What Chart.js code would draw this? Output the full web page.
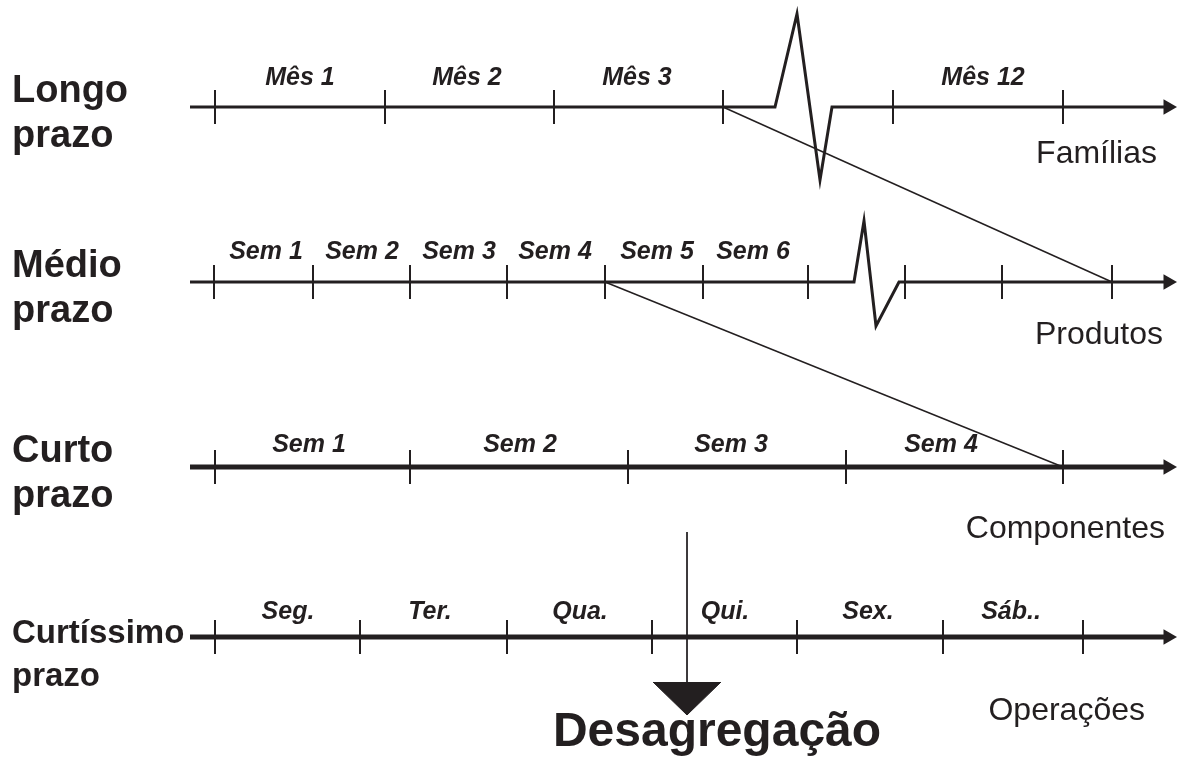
<!DOCTYPE html>
<html>
<head>
<meta charset="utf-8">
<script src="https://cdn.jsdelivr.net/npm/chart.js@4.4.1/dist/chart.umd.min.js"></script>
<style>
  html, body { margin: 0; padding: 0; background: #fff; overflow: hidden; }
</style>
</head>
<body>
<canvas id="chart" width="1177" height="758"></canvas>
<script>
// horizon rows (top to bottom)
const rowTitles = [['Longo', 'prazo'], ['Médio', 'prazo'], ['Curto', 'prazo'], ['Curtíssimo', 'prazo']];
const rowLevels = [107, 282, 467, 637];
const levelNames = ['Famílias', 'Produtos', 'Componentes', 'Operações'];

// tick positions on each time line
const longTicks = [215, 385, 554, 723, 893, 1063];
const medTicks = [214, 313, 410, 507, 605, 703, 808, 905, 1002, 1112];
const shortTicks = [215, 410, 628, 846, 1063];
const dayTicks = [215, 360, 507, 652, 797, 943, 1083];

// period labels and where they sit
const longLabels = ['Mês 1', 'Mês 2', 'Mês 3', 'Mês 12'];
const longLabelX = [300, 467, 637, 983];
const medLabels = ['Sem 1', 'Sem 2', 'Sem 3', 'Sem 4', 'Sem 5', 'Sem 6'];
const medLabelX = [266, 362, 459, 555, 657, 753];
const shortLabels = ['Sem 1', 'Sem 2', 'Sem 3', 'Sem 4'];
const shortLabelX = [309, 520, 731, 941];
const dayLabels = ['Seg.', 'Ter.', 'Qua.', 'Qui.', 'Sex.', 'Sáb..'];
const dayLabelX = [288, 430, 580, 725, 868, 1011];

// breaks (zig-zag) in the first two lines
const longBreakX = [775, 797, 820, 832];
const longBreakY = [107, 14, 180, 107];
const medBreakX = [854, 864, 876, 899];
const medBreakY = [282, 221, 326, 282];

// disaggregation links: [from x on row i, to x on row i+1]
const linkFrom = [723, 605];
const linkTo = [1112, 1063];

const axisStart = 190;
const axisEnd = 1168;
const desagX = 687;

const ink = '#231f20';

const allTicks = [longTicks, medTicks, shortTicks, dayTicks];
const allLabels = [longLabels, medLabels, shortLabels, dayLabels];
const allLabelX = [longLabelX, medLabelX, shortLabelX, dayLabelX];
const lineWidths = [3, 3, 5, 5];
const labelRise = [22, 23, 15, 18];

function axisPath(i) {
  const y = rowLevels[i];
  const pts = [{ x: axisStart, y }];
  if (i === 0) longBreakX.forEach((x, k) => pts.push({ x, y: longBreakY[k] }));
  if (i === 1) medBreakX.forEach((x, k) => pts.push({ x, y: medBreakY[k] }));
  pts.push({ x: axisEnd, y });
  return pts;
}

const datasets = [];

rowLevels.forEach((y, i) => {
  datasets.push({
    data: axisPath(i),
    borderColor: ink,
    borderWidth: lineWidths[i],
    borderJoinStyle: 'miter',
    pointRadius: 0,
    tension: 0
  });
  datasets.push({
    data: allTicks[i].map(x => ({ x, y })),
    showLine: false,
    pointStyle: 'line',
    pointRotation: 90,
    pointRadius: 17,
    pointHoverRadius: 17,
    pointBorderWidth: 2,
    pointBorderColor: ink
  });
});

// arrow heads
datasets.push({
  data: rowLevels.map(y => ({ x: axisEnd, y })),
  showLine: false,
  pointStyle: 'triangle',
  pointRotation: 90,
  pointRadius: 9,
  pointHoverRadius: 9,
  pointBorderWidth: 0,
  pointBackgroundColor: ink,
  pointBorderColor: ink
});

// thin links between horizons
linkFrom.forEach((x, i) => {
  datasets.push({
    data: [{ x, y: rowLevels[i] }, { x: linkTo[i], y: rowLevels[i + 1] }],
    borderColor: ink,
    borderWidth: 1.5,
    pointRadius: 0
  });
});

// vertical disaggregation arrow
datasets.push({
  data: [{ x: desagX, y: 532 }, { x: desagX, y: 682 }],
  borderColor: ink,
  borderWidth: 1,
  pointRadius: 0
});
datasets.push({
  data: [{ x: desagX - 34, y: 682 }, { x: desagX, y: 715 }, { x: desagX + 34, y: 682 }],
  borderColor: ink,
  borderWidth: 1,
  backgroundColor: ink,
  fill: { value: 682 },
  pointRadius: 0
});

const textPlugin = {
  id: 'diagramText',
  afterDatasetsDraw(chart) {
    const ctx = chart.ctx;
    const sx = chart.scales.x, sy = chart.scales.y;
    ctx.save();
    ctx.fillStyle = ink;
    ctx.textBaseline = 'alphabetic';

    // period labels
    ctx.font = 'italic bold 25px "Liberation Sans", Arial, sans-serif';
    ctx.textAlign = 'center';
    allLabels.forEach((labels, i) => {
      labels.forEach((t, k) => {
        ctx.fillText(t, sx.getPixelForValue(allLabelX[i][k]), sy.getPixelForValue(rowLevels[i] - labelRise[i]));
      });
    });

    // row titles
    ctx.textAlign = 'left';
    rowTitles.forEach((lines, i) => {
      const y = rowLevels[i];
      if (i < 3) {
        ctx.font = 'bold 38px "Liberation Sans", Arial, sans-serif';
        ctx.fillText(lines[0], 12, sy.getPixelForValue(y - 5));
        ctx.fillText(lines[1], 12, sy.getPixelForValue(y + 40));
      } else {
        ctx.font = 'bold 33px "Liberation Sans", Arial, sans-serif';
        ctx.fillText(lines[0], 12, sy.getPixelForValue(y + 6));
        ctx.fillText(lines[1], 12, sy.getPixelForValue(y + 49));
      }
    });

    // level names
    ctx.font = '32px "Liberation Sans", Arial, sans-serif';
    ctx.textAlign = 'right';
    const nameBase = [163, 344, 538, 720];
    const nameRight = [1157, 1163, 1165, 1145];
    levelNames.forEach((t, i) => {
      ctx.fillText(t, sx.getPixelForValue(nameRight[i]), sy.getPixelForValue(nameBase[i]));
    });

    // title
    ctx.font = 'bold 48px "Liberation Sans", Arial, sans-serif';
    ctx.textAlign = 'center';
    ctx.fillText('Desagregação', sx.getPixelForValue(717), sy.getPixelForValue(746));
    ctx.restore();
  }
};

new Chart(document.getElementById('chart'), {
  type: 'line',
  data: { datasets },
  options: {
    responsive: false,
    animation: false,
    events: [],
    layout: { padding: 0, autoPadding: false },
    clip: false,
    plugins: { legend: { display: false }, tooltip: { enabled: false } },
    scales: {
      x: { type: 'linear', min: 0, max: 1177, display: false },
      y: { type: 'linear', min: 0, max: 758, reverse: true, display: false }
    }
  },
  plugins: [textPlugin]
});
</script>
</body>
</html>
